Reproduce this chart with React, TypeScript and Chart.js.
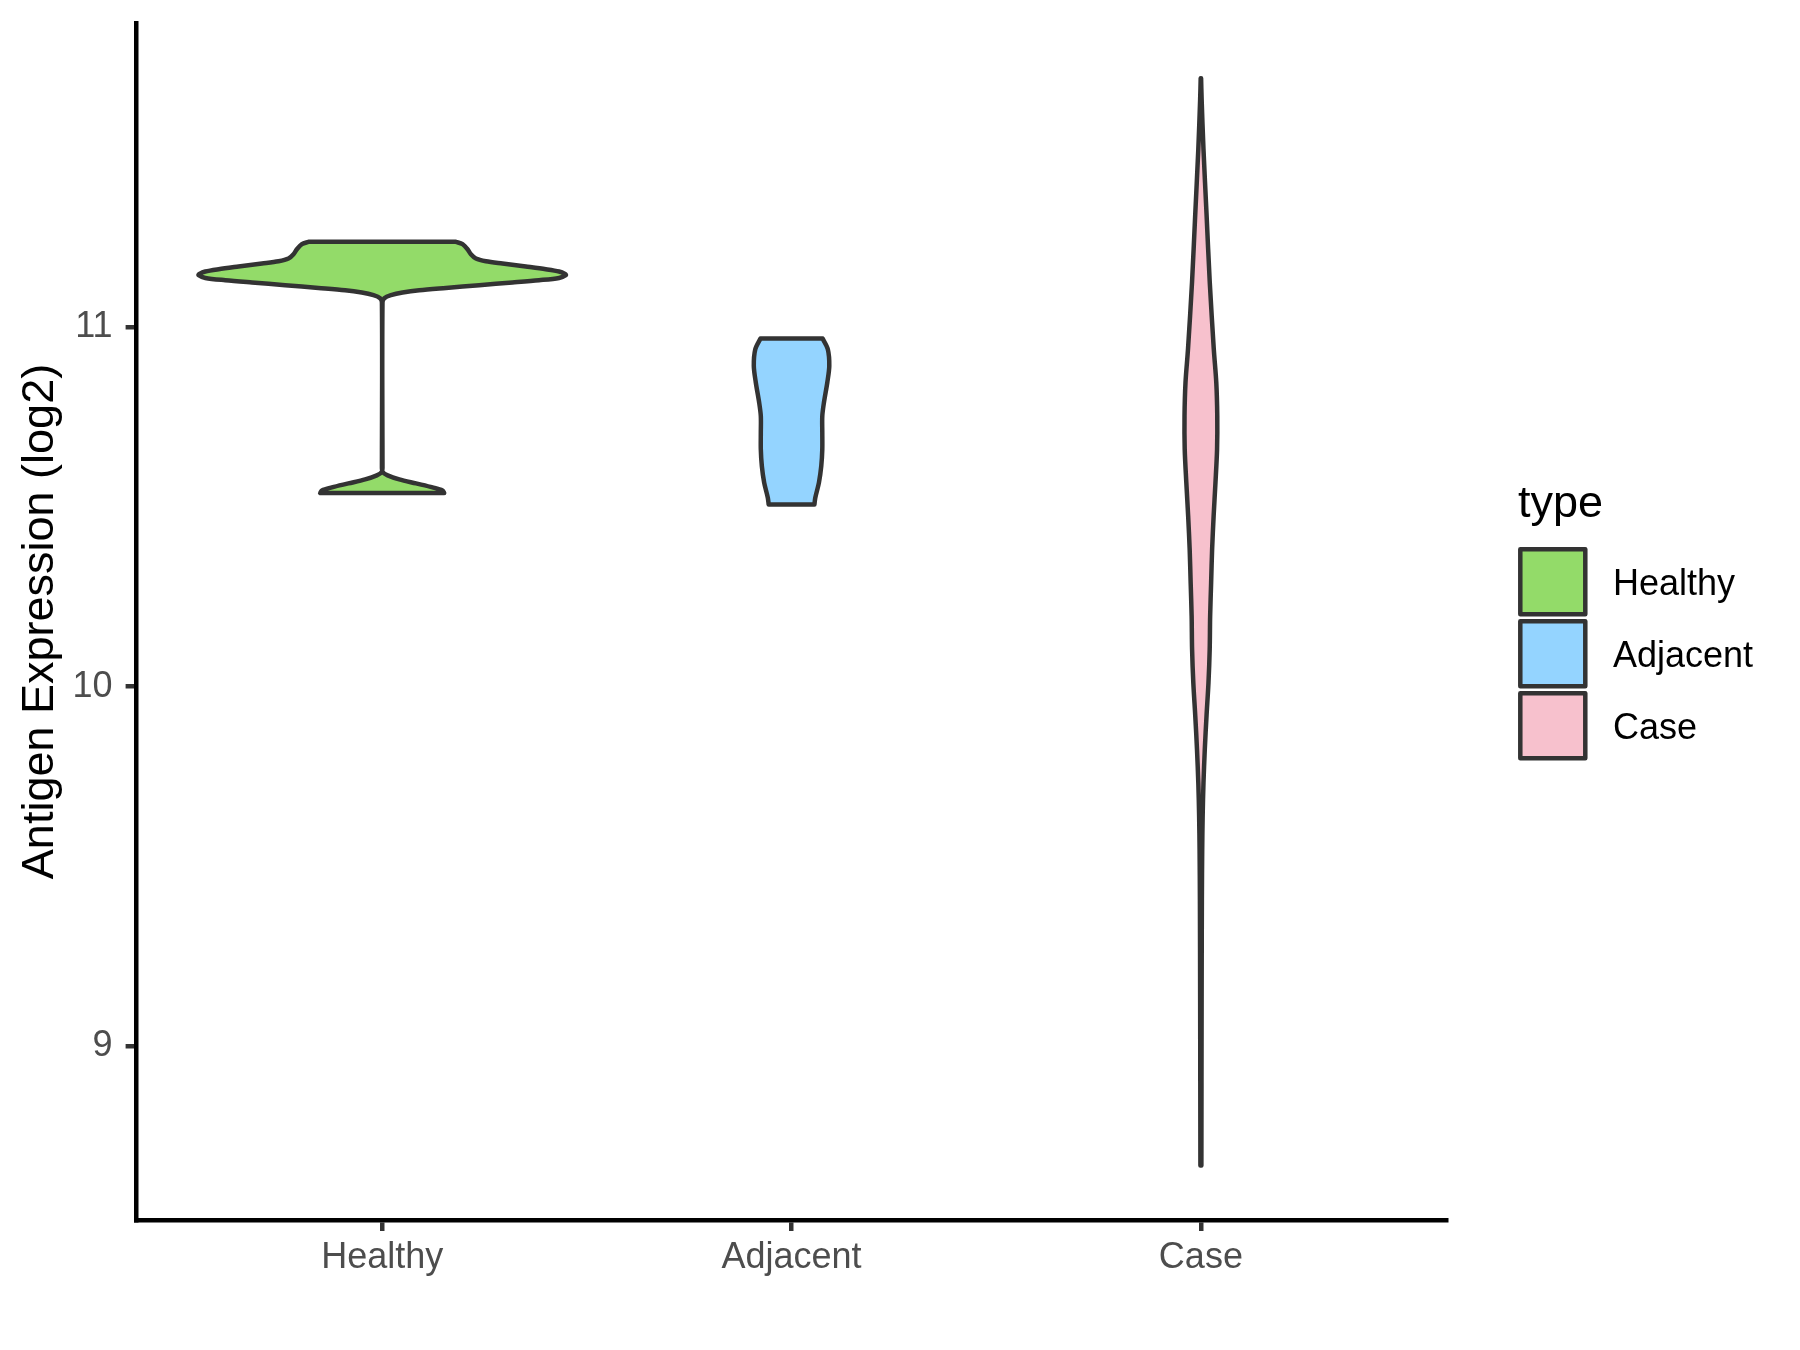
import React, { useEffect, useRef } from 'react';
import { Chart, registerables } from 'chart.js';

Chart.register(...registerables);

// ---- data ----
const categories = ['Healthy', 'Adjacent', 'Case'];
const fillColors = ['#93DB69', '#94D4FF', '#F7C1CD'];
const outlineColor = '#333333';
const yTicks = [9, 10, 11];
const yTitle = 'Antigen Expression (log2)';
const legendTitle = 'type';

// violin outlines: expression values (bottom -> top) and half-widths (in category units)
const healthyValues = [
  10.539, 10.5465, 10.5549, 10.566, 10.5772, 10.5883, 10.5975, 10.6098, 11.0697, 11.0817,
  11.09, 11.0975, 11.104, 11.1104, 11.1179, 11.1254, 11.1318, 11.1382, 11.1458, 11.1494,
  11.1561, 11.1625, 11.17, 11.1784, 11.1848, 11.1923, 11.2043, 11.2182, 11.2322, 11.2386,
];
const healthyHalfWidths = [
  0.1515, 0.1474, 0.123, 0.0825, 0.0417, 0.0132, 0.001, 0.0007, 0.0007, 0.0051,
  0.0213, 0.0498, 0.0905, 0.1557, 0.2369, 0.3182, 0.3833, 0.4321, 0.4485, 0.4467,
  0.4321, 0.3997, 0.3509, 0.2938, 0.2533, 0.2289, 0.2167, 0.2084, 0.1962, 0.1801,
];
const adjacentValues = [
  10.5075, 10.5262, 10.568, 10.6143, 10.6608, 10.7074, 10.7536, 10.791, 10.8467, 10.893,
  10.9395, 10.9693,
];
const adjacentHalfWidths = [
  0.0559, 0.058, 0.0669, 0.0726, 0.0751, 0.0751, 0.0751, 0.0791, 0.0873, 0.0922,
  0.0886, 0.0759,
];
const caseValues = [
  8.667, 9.128, 9.4067, 9.546, 9.6388, 9.7319, 9.8247, 9.9175, 10.0106, 10.1034,
  10.196, 10.2893, 10.382, 10.4749, 10.568, 10.6608, 10.7536, 10.8467, 10.9398, 11.1254,
  11.311, 11.497, 11.636, 11.694,
];
const caseHalfWidths = [
  0.0012, 0.0018, 0.0024, 0.0032, 0.0043, 0.0063, 0.0095, 0.0137, 0.0185, 0.0215,
  0.0226, 0.025, 0.0274, 0.0311, 0.0356, 0.0395, 0.04, 0.0376, 0.0315, 0.0217,
  0.014, 0.0063, 0.0018, 0.0005,
];

const violinValues = [healthyValues, adjacentValues, caseValues];
const violinHalfWidths = [healthyHalfWidths, adjacentHalfWidths, caseHalfWidths];

const FONT = '"Liberation Sans", Arial, Helvetica, sans-serif';

function outline(center: number, values: number[], halfWidths: number[]) {
  const n = values.length;
  const right = values.map((v, i) => ({ x: center + halfWidths[i], y: v }));
  const left = values.map((v, i) => ({ x: center - halfWidths[i], y: v })).reverse();
  return [right[0], ...right, right[n - 1], left[0], ...left, left[n - 1], right[0]];
}

const legendPlugin = {
  id: 'ggLegend',
  afterDraw(chart: any) {
    const ctx = chart.ctx as CanvasRenderingContext2D;
    ctx.save();
    ctx.textAlign = 'left';
    ctx.textBaseline = 'alphabetic';
    ctx.fillStyle = '#000000';
    ctx.font = `45px ${FONT}`;
    ctx.fillText(legendTitle, 1518, 517);
    const tops = [549.3, 621.3, 693.3];
    categories.forEach((c, i) => {
      const top = tops[i];
      ctx.fillStyle = fillColors[i];
      ctx.fillRect(1520.3, top, 65, 65);
      ctx.strokeStyle = outlineColor;
      ctx.lineWidth = 4.5;
      ctx.lineJoin = 'round';
      ctx.strokeRect(1520.3, top, 65, 65);
      ctx.fillStyle = '#000000';
      ctx.font = `36px ${FONT}`;
      ctx.fillText(c, 1613, top + 32.5 + 12.9);
    });
    ctx.restore();
  },
};

export default function App() {
  const ref = useRef<HTMLCanvasElement>(null);
  useEffect(() => {
    document.body.style.margin = '0';
    const datasets = categories.map((c, i) => ({
      label: c,
      data: outline(i, violinValues[i], violinHalfWidths[i]),
      backgroundColor: fillColors[i],
      borderColor: outlineColor,
      borderWidth: 4.5,
      borderJoinStyle: 'round' as const,
      borderCapStyle: 'round' as const,
      fill: 'shape' as any,
      tension: 0.3,
      pointRadius: 0,
      pointHoverRadius: 0,
    }));
    const chart = new Chart(ref.current!, {
      type: 'line',
      data: { datasets },
      options: {
        animation: false,
        responsive: false,
        devicePixelRatio: 1,
        events: [],
        layout: { padding: { top: 23, left: 0, right: 353.5, bottom: 0 } },
        plugins: {
          legend: { display: false },
          tooltip: { enabled: false },
        },
        scales: {
          x: {
            type: 'linear',
            min: -0.6,
            max: 2.6,
            afterBuildTicks: (s: any) => {
              s.ticks = categories.map((_, i) => ({ value: i }));
            },
            afterFit: (s: any) => {
              s.height = 130;
              s.paddingLeft = 0;
              s.paddingRight = 0;
            },
            ticks: {
              callback: (v: any) => categories[v] ?? '',
              color: '#4D4D4D',
              font: { size: 36, family: FONT, lineHeight: 1 },
              padding: 9,
              autoSkip: false,
              maxRotation: 0,
              minRotation: 0,
            },
            grid: {
              display: true,
              drawOnChartArea: false,
              drawTicks: true,
              tickLength: 11,
              color: '#333333',
              lineWidth: 4.5,
            },
            border: { display: true, color: '#000000', width: 4.5 },
          },
          y: {
            type: 'linear',
            min: 8.515,
            max: 11.848,
            afterBuildTicks: (s: any) => {
              s.ticks = yTicks.map((v) => ({ value: v }));
            },
            afterFit: (s: any) => {
              s.width = 136.6;
              s.paddingTop = 0;
              s.paddingBottom = 0;
            },
            ticks: {
              callback: (v: any) => String(v),
              color: '#4D4D4D',
              font: { size: 36, family: FONT, lineHeight: 1 },
              padding: 13,
              autoSkip: false,
            },
            grid: {
              display: true,
              drawOnChartArea: false,
              drawTicks: true,
              tickLength: 11,
              color: '#333333',
              lineWidth: 4.5,
            },
            border: { display: true, color: '#000000', width: 4.5 },
            title: {
              display: true,
              text: yTitle,
              color: '#000000',
              font: { size: 45, family: FONT, lineHeight: 1 },
              padding: { top: 18.5, bottom: 0 },
            },
          },
        },
      },
      plugins: [legendPlugin],
    });
    return () => chart.destroy();
  }, []);
  return (
    <div style={{ width: 1800, height: 1350, background: '#ffffff' }}>
      <canvas ref={ref} width={1800} height={1350} style={{ display: 'block' }} />
    </div>
  );
}
